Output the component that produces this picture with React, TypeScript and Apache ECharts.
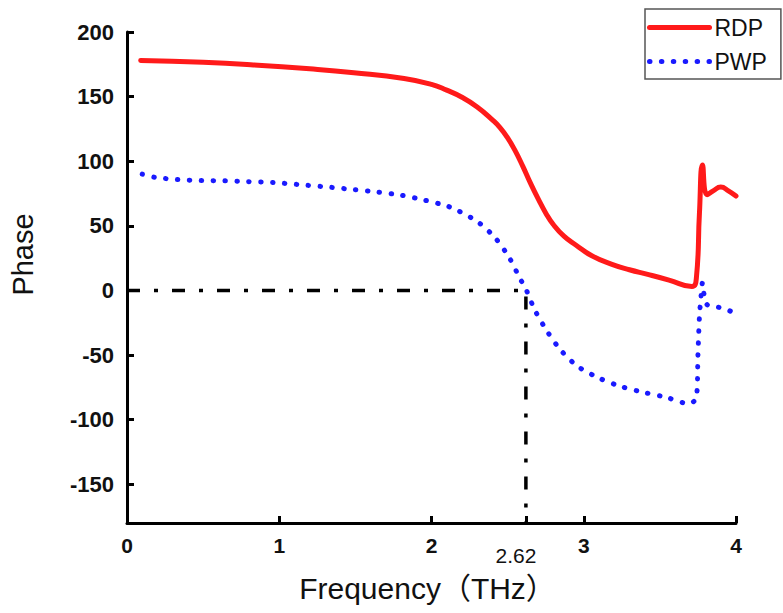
import React, { useEffect, useRef } from "react";
import * as echarts from "echarts";

// Tick positions on both axes
const freqTicks = [0, 1, 2, 2.62, 3, 4];
const phaseTicks = [-150, -100, -50, 0, 50, 100, 150, 200];

// Phase (deg) vs frequency (THz)
const rdp: [number, number][] = [
  [0.09, 178], [0.5, 176.5], [0.83, 174.5], [1.2, 171.5], [1.49, 168.5],
  [1.82, 164], [2.0, 159.5], [2.1, 155], [2.2, 149.5], [2.3, 142],
  [2.4, 132], [2.45, 126], [2.5, 118], [2.55, 108], [2.6, 96],
  [2.65, 83], [2.7, 71], [2.75, 60], [2.8, 51], [2.87, 42],
  [2.95, 35], [3.05, 27], [3.19, 20], [3.3, 16], [3.42, 12.4],
  [3.56, 8], [3.71, 3], [3.74, 10], [3.76, 60], [3.78, 97],
  [3.81, 74], [3.85, 77], [3.9, 80], [3.95, 77], [4.0, 73],
];

const pwp: [number, number][] = [
  [0.1, 90], [0.18, 87.6], [0.33, 85.8], [0.49, 85], [0.64, 84.8],
  [0.79, 84.2], [0.96, 83.5], [1.18, 81.4], [1.34, 79.8], [1.49, 78],
  [1.64, 76.2], [1.8, 73.7], [1.95, 70], [2.1, 65.4], [2.17, 62],
  [2.31, 52.5], [2.42, 40.4], [2.51, 25.5], [2.58, 9.5], [2.62, 1],
  [2.68, -15.5], [2.76, -31.7], [2.85, -46.4], [2.96, -58.7], [3.1, -67.8],
  [3.24, -74.2], [3.39, -78.8], [3.54, -82.7], [3.69, -87.6], [3.74, -83],
  [3.75, -50], [3.76, -20], [3.77, -5], [3.78, 6], [3.79, -3],
  [3.81, -11], [3.86, -12.5], [3.92, -14], [4.0, -18],
];

// Zero-crossing guide: along phase 0, then down to the frequency axis
const crossFreq = 2.62;
const phaseMin = -180;
const phaseMax = 200;
const guide: [number, number][] = [
  [0, 0],
  [crossFreq, 0],
  [crossFreq, phaseMin],
];

const FONT = "'Liberation Sans', Arial, 'Noto Sans CJK SC', sans-serif";
const RED = "#ff1a1a";
const BLUE = "#1a1aff";
const rdpLine = { color: RED, width: 5, cap: "round", join: "round" };
const pwpLine = { color: BLUE, width: 5, type: [0.5, 11.4], cap: "round" };

export default function App() {
  const ref = useRef<HTMLDivElement>(null);

  useEffect(() => {
    document.body.style.margin = "0";
    if (!ref.current) return;
    const chart = echarts.init(ref.current, undefined, { renderer: "svg" });
    chart.setOption({
      animation: false,
      backgroundColor: "#ffffff",
      grid: { left: 126, right: 47, top: 32, bottom: 90 },
      legend: {
        orient: "vertical",
        left: 645,
        top: 9,
        data: [
          { name: "RDP", lineStyle: rdpLine },
          { name: "PWP", lineStyle: pwpLine },
        ],
        itemWidth: 60,
        itemHeight: 20,
        itemGap: 11,
        padding: [7, 14, 6, 2],
        borderColor: "#555",
        borderWidth: 1.5,
        itemStyle: { opacity: 0 },
        textStyle: { fontFamily: FONT, fontSize: 23, color: "#111" },
      },
      xAxis: {
        type: "value",
        min: 0,
        max: 4,
        name: "Frequency（THz）",
        nameLocation: "middle",
        nameGap: 50,
        nameTextStyle: {
          fontFamily: FONT,
          fontSize: 30,
          color: "#111",
          padding: [0, 8, 0, 0],
        },
        axisLine: { onZero: false, lineStyle: { color: "#000", width: 3 } },
        axisTick: {
          inside: true,
          length: 7,
          lineStyle: { width: 3, color: "#000" },
          customValues: freqTicks,
        },
        axisLabel: {
          customValues: freqTicks,
          margin: 12,
          formatter: (v: number) =>
            Math.abs(v - crossFreq) < 1e-6 ? "{m|2.62}" : `{b|${v}}`,
          rich: {
            b: { fontFamily: FONT, fontSize: 21, fontWeight: "bold", color: "#111" },
            m: {
              fontFamily: FONT,
              fontSize: 21,
              color: "#111",
              padding: [10, 20, 0, 0],
            },
          },
        },
        splitLine: { show: false },
      },
      yAxis: {
        type: "value",
        min: phaseMin,
        max: phaseMax,
        name: "Phase",
        nameLocation: "middle",
        nameGap: 90,
        nameTextStyle: {
          fontFamily: FONT,
          fontSize: 29,
          color: "#111",
          padding: [0, 0, 0, 46],
        },
        axisLine: { onZero: false, lineStyle: { color: "#000", width: 3 } },
        axisTick: {
          inside: true,
          length: 7,
          lineStyle: { width: 3, color: "#000" },
          customValues: phaseTicks,
        },
        axisLabel: {
          customValues: phaseTicks,
          margin: 13,
          fontFamily: FONT,
          fontSize: 22,
          fontWeight: "bold",
          color: "#111",
        },
        splitLine: { show: false },
      },
      series: [
        {
          name: "guide",
          type: "line",
          data: guide,
          symbol: "none",
          silent: true,
          lineStyle: { color: "#000", width: 3.5, type: [13, 14, 4, 14], cap: "butt" },
          z: 1,
        },
        {
          name: "RDP",
          type: "line",
          data: rdp,
          symbol: "none",
          smooth: 0.5,
          lineStyle: rdpLine,
          itemStyle: { color: RED },
          z: 3,
        },
        {
          name: "PWP",
          type: "line",
          data: pwp,
          symbol: "none",
          smooth: 0.3,
          lineStyle: pwpLine,
          itemStyle: { color: BLUE },
          z: 2,
        },
      ],
    });
    return () => chart.dispose();
  }, []);

  return <div ref={ref} style={{ width: 783, height: 613 }} />;
}
